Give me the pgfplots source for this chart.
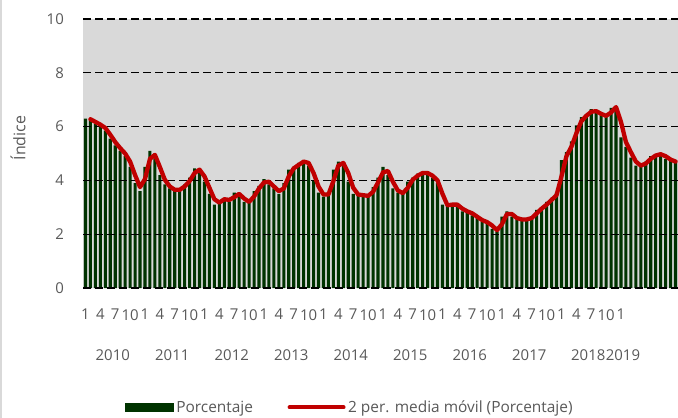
\documentclass[border=0pt]{standalone}
\usepackage{pgfplots}
\pgfplotsset{compat=1.18}
\usepackage{pgfplotstable}
\usepackage{fontspec}
\setmainfont{Open Sans}
\definecolor{barcol}{HTML}{003300}
\definecolor{linecol}{HTML}{C00000}
\definecolor{bgcol}{HTML}{D9D9D9}
\definecolor{txtcol}{HTML}{595959}
\newcommand{\chartfont}{\fontsize{15}{18}\selectfont}

\pgfplotstableread{
x y
1 6.30
2 6.25
3 6.10
4 6.05
5 5.85
6 5.55
7 5.30
8 5.10
9 4.90
10 4.50
11 3.90
12 3.60
13 4.50
14 5.10
15 4.80
16 4.20
17 3.85
18 3.70
19 3.60
20 3.70
21 3.85
22 4.10
23 4.45
24 4.35
25 3.95
26 3.50
27 3.10
28 3.25
29 3.35
30 3.20
31 3.55
32 3.45
33 3.20
34 3.20
35 3.60
36 3.80
37 4.05
38 3.85
39 3.70
40 3.50
41 3.90
42 4.40
43 4.50
44 4.65
45 4.75
46 4.55
47 4.00
48 3.55
49 3.40
50 3.55
51 4.40
52 4.70
53 4.60
54 3.95
55 3.50
56 3.45
57 3.45
58 3.40
59 3.75
60 4.10
61 4.50
62 4.20
63 3.70
64 3.55
65 3.50
66 3.95
67 4.10
68 4.25
69 4.30
70 4.25
71 4.10
72 3.90
73 3.10
74 3.05
75 3.15
76 3.05
77 2.85
78 2.85
79 2.70
80 2.60
81 2.45
82 2.45
83 2.20
84 2.10
85 2.65
86 2.85
87 2.65
88 2.55
89 2.55
90 2.55
91 2.65
92 2.90
93 3.00
94 3.20
95 3.35
96 3.55
97 4.75
98 5.05
99 5.45
100 6.05
101 6.35
102 6.45
103 6.65
104 6.50
105 6.45
106 6.35
107 6.70
108 6.75
109 5.60
110 5.25
111 4.85
112 4.55
113 4.55
114 4.70
115 4.90
116 4.95
117 5.00
118 4.80
119 4.75
120 4.65
}\bars

\pgfplotstableread{
x y
2 6.275
3 6.175
4 6.075
5 5.95
6 5.70
7 5.425
8 5.20
9 5.00
10 4.70
11 4.20
12 3.75
13 4.05
14 4.80
15 4.95
16 4.50
17 4.025
18 3.775
19 3.65
20 3.65
21 3.775
22 3.975
23 4.275
24 4.40
25 4.15
26 3.725
27 3.30
28 3.175
29 3.30
30 3.275
31 3.375
32 3.50
33 3.325
34 3.20
35 3.40
36 3.70
37 3.925
38 3.95
39 3.775
40 3.60
41 3.70
42 4.15
43 4.45
44 4.575
45 4.70
46 4.65
47 4.275
48 3.775
49 3.475
50 3.475
51 3.975
52 4.55
53 4.65
54 4.275
55 3.725
56 3.475
57 3.45
58 3.425
59 3.575
60 3.925
61 4.30
62 4.35
63 3.95
64 3.625
65 3.525
66 3.725
67 4.025
68 4.175
69 4.275
70 4.275
71 4.175
72 4.00
73 3.50
74 3.075
75 3.10
76 3.10
77 2.95
78 2.85
79 2.775
80 2.65
81 2.525
82 2.45
83 2.325
84 2.15
85 2.375
86 2.75
87 2.75
88 2.60
89 2.55
90 2.55
91 2.60
92 2.775
93 2.95
94 3.10
95 3.275
96 3.45
97 4.15
98 4.90
99 5.25
100 5.75
101 6.20
102 6.40
103 6.55
104 6.575
105 6.475
106 6.40
107 6.525
108 6.725
109 6.175
110 5.425
111 5.05
112 4.70
113 4.55
114 4.625
115 4.80
116 4.925
117 4.975
118 4.90
119 4.775
120 4.70
}\ma

\begin{document}
\begin{tikzpicture}
\path[use as bounding box] (0,0) rectangle (678bp,418bp);
\fill[white] (0,0) rectangle (678bp,418bp);
\draw[bgcol, line width=1.5bp] (0.75bp,0) -- (0.75bp,418bp);
\begin{axis}[
  at={(83bp,130bp)}, anchor=south west,
  scale only axis, width=595bp, height=269bp,
  xmin=0.5, xmax=120.5, ymin=0, ymax=10,
  clip=false,
  axis line style={draw=none},
  major tick length=0pt,
  axis background/.style={fill=bgcol},
  ytick={0,2,4,6,8,10},
  xtick={1,4,...,109},
  xticklabels={1,4,7,10,1,4,7,10,1,4,7,10,1,4,7,10,1,4,7,10,1,4,7,10,1,4,7,10,1,4,7,10,1,4,7,10,1},
  extra x ticks={6.5,18.5,30.5,42.5,54.5,66.5,78.5,90.5,102.4,109.4},
  extra x tick labels={2010,2011,2012,2013,2014,2015,2016,2017,2018,2019},
  extra x tick style={xticklabel style={yshift=-40bp}},
  /pgf/number format/assume math mode=true,
  tick label style={font=\chartfont, text=txtcol},
  yticklabel style={inner sep=0pt, anchor=east, xshift=-19bp},
  xticklabel style={inner sep=0pt, anchor=north, yshift=-21bp},
  ylabel={\fontsize{16}{19}\selectfont Índice},
  ylabel style={at={(axis description cs:-0.1092,0.5576)}, anchor=center, rotate=0, text=txtcol},
  legend columns=2,
  legend style={at={(0.4487,-0.444)}, anchor=center, draw=none, fill=none,
    font=\fontsize{15.5}{18}\selectfont, text=txtcol, inner sep=0pt,
    nodes={inner sep=2.5bp},
    /tikz/every even column/.append style={column sep=32bp}},
]
\addplot[ybar, bar width=3.1bp, fill=barcol, draw=none,
  legend image code/.code={\fill[barcol] (0bp,-4.5bp) rectangle (49bp,4.5bp);}]
  table[x=x,y=y] {\bars};
\addlegendentry{Porcentaje}
\pgfplotsinvokeforeach{0,2,4,6,8,10}{
  \draw[black, line width=1.3bp, dash pattern=on 7.5bp off 4.5bp] (axis cs:0.5,#1) -- (axis cs:120.5,#1);
}
\addplot[linecol, line width=4.3bp, line join=round, line cap=round,
  legend image code/.code={\draw[linecol, line width=4bp, line cap=round] (0bp,0bp) -- (54bp,0bp);}]
  table[x=x,y=y] {\ma};
\addlegendentry{2 per. media móvil (Porcentaje)}
\end{axis}
\end{tikzpicture}
\end{document}
